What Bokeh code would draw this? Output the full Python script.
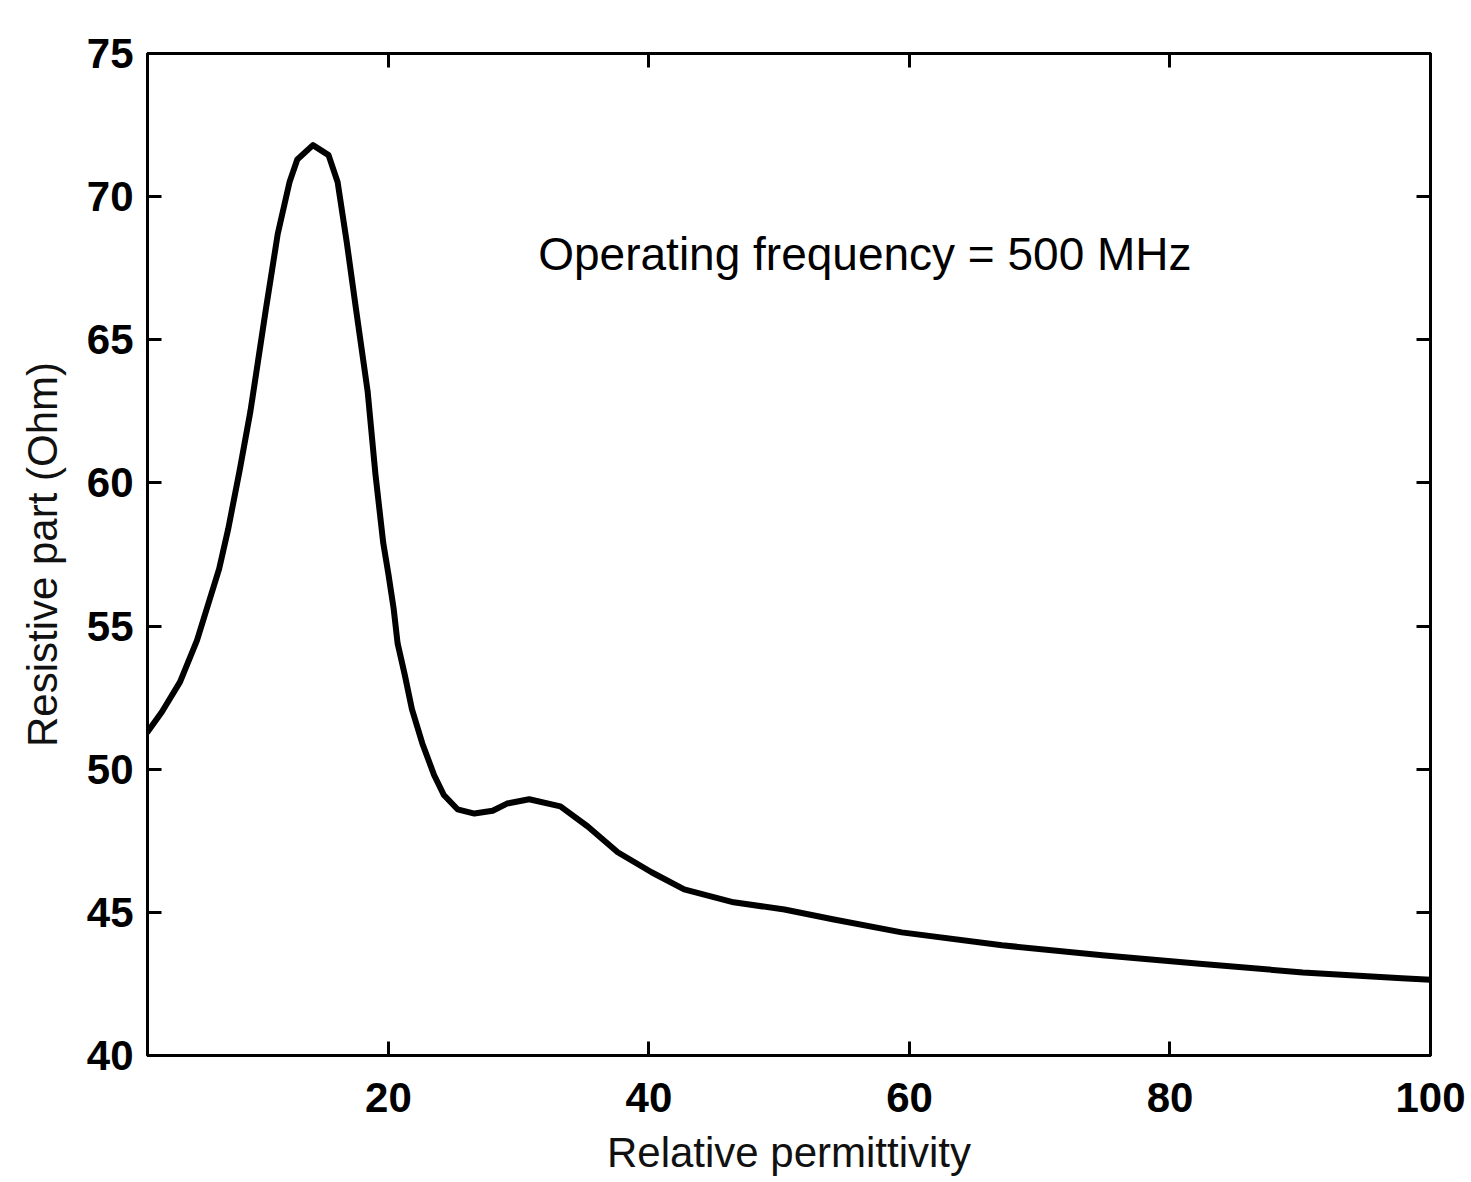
from bokeh.plotting import figure
from bokeh.models import LinearAxis, Range1d, FixedTicker, Label
from bokeh.embed import file_html
from bokeh.resources import INLINE

# Data
permittivity = [1.5, 2.6, 4.0, 5.3, 7.0, 7.7, 8.6, 9.4, 10.6, 11.5, 12.4, 13.0, 14.2, 15.4, 16.1,
                16.8, 17.5, 18.4, 19.0, 19.6, 20.0, 20.4, 20.7, 21.25, 21.8, 22.6, 23.5, 24.25, 25.3,
                26.6, 28.0, 29.1, 30.8, 33.2, 35.3, 37.6, 40.2, 42.7, 46.5, 50.4, 54.2, 59.4, 67.1,
                74.8, 82.5, 90.2, 97.8, 100]
resistance = [51.3, 52.0, 53.05, 54.5, 57.0, 58.4, 60.5, 62.5, 66.1, 68.7, 70.5, 71.3, 71.8, 71.45, 70.5,
              68.4, 66.1, 63.2, 60.3, 57.9, 56.8, 55.6, 54.4, 53.3, 52.1, 50.9, 49.8, 49.1, 48.6,
              48.45, 48.55, 48.8, 48.95, 48.7, 48.0, 47.1, 46.4, 45.8, 45.35, 45.1, 44.75, 44.3, 43.85,
              43.5, 43.2, 42.9, 42.7, 42.65]
x_ticks = [20, 40, 60, 80, 100]
y_ticks = [40, 45, 50, 55, 60, 65, 70, 75]
annotation = "Operating frequency = 500 MHz"

FONT = "Liberation Sans"

p = figure(width=1466, height=1180, output_backend="svg", toolbar_location=None,
           x_range=Range1d(1.5, 100), y_range=Range1d(40, 75),
           min_border_left=147, min_border_top=53, min_border_right=36, min_border_bottom=125)

p.background_fill_color = "white"
p.border_fill_color = "white"
p.outline_line_color = "black"
p.outline_line_width = 3
p.grid.visible = False

p.line(permittivity, resistance, line_color="black", line_width=6, line_join="round", line_cap="round")


def style_axis(ax, ticks, show_labels=True):
    ax.ticker = FixedTicker(ticks=ticks)
    ax.axis_line_color = "black"
    ax.axis_line_width = 3
    ax.major_tick_in = 14
    ax.major_tick_out = 0
    ax.major_tick_line_width = 3
    ax.major_tick_line_color = "black"
    ax.minor_tick_line_color = None
    ax.major_label_text_font = FONT
    ax.major_label_text_font_style = "bold"
    ax.major_label_text_color = "black" if show_labels else None
    ax.major_label_text_font_size = "42px"
    ax.axis_label_text_font = FONT
    ax.axis_label_text_font_style = "normal"
    ax.axis_label_text_font_size = "42px"
    ax.axis_label_text_color = "#111111"


xa = p.xaxis[0]
style_axis(xa, x_ticks)
xa.axis_label = "Relative permittivity"
xa.major_label_standoff = 27
xa.axis_label_standoff = 14

ya = p.yaxis[0]
style_axis(ya, y_ticks)
ya.axis_label = "Resistive part (Ohm)"
ya.major_label_standoff = 14
ya.axis_label_standoff = 18

top = LinearAxis()
style_axis(top, x_ticks, show_labels=False)
top.major_label_standoff = 0
p.add_layout(top, "above")

right = LinearAxis()
style_axis(right, y_ticks, show_labels=False)
right.major_label_standoff = 0
p.add_layout(right, "right")

p.add_layout(Label(x=31.5, y=68.0, text=annotation, text_font=FONT, text_font_size="46px",
                   text_color="black", text_baseline="alphabetic", text_align="left"))

open("out.html", "w").write(file_html(p, INLINE))
